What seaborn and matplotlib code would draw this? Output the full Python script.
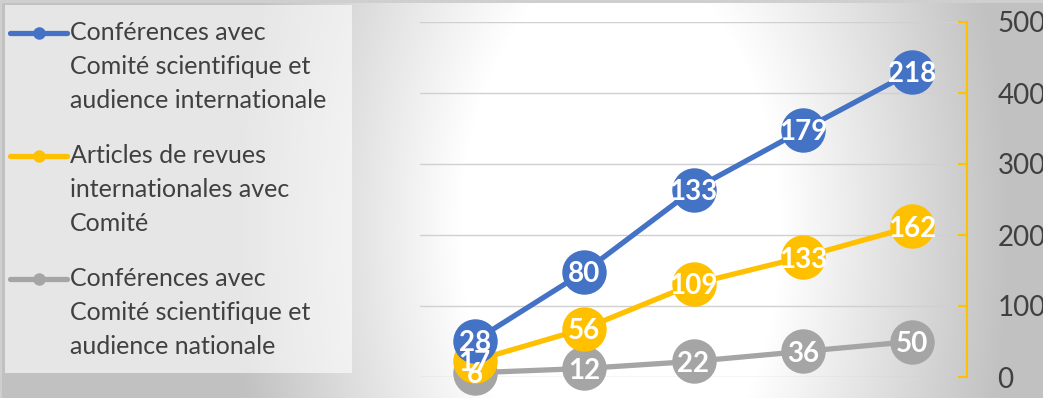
import numpy as np
import pandas as pd
import seaborn as sns
import matplotlib
matplotlib.use("Agg")
import matplotlib.pyplot as plt
import matplotlib.transforms as mtransforms
from matplotlib.legend_handler import HandlerLine2D
from matplotlib.lines import Line2D
from matplotlib.patches import Rectangle

# ---------------- data ----------------
periods = ["1", "2", "3", "4", "5"]          # x categories (no labels shown)
conf_intl = [28, 80, 133, 179, 218]
articles = [17, 56, 109, 133, 162]
conf_nat = [6, 12, 22, 36, 50]
series_names = [
    "Conférences avec\nComité scientifique et\naudience internationale",
    "Articles de revues\ninternationales avec\nComité",
    "Conférences avec\nComité scientifique et\naudience nationale",
]
series_values = [conf_intl, articles, conf_nat]
colors = ["#4472C4", "#FFC000", "#A5A5A5"]
y_ticks = [0, 100, 200, 300, 400, 500]

# stacked line chart: bottom = national, then articles, then international
stack_order = [2, 1, 0]
rows = []
cum = np.zeros(len(periods))
for si in stack_order:
    vals = np.array(series_values[si], dtype=float)
    cum = cum + vals
    for i, p in enumerate(periods):
        rows.append({"pos": i, "period": p, "series": series_names[si],
                     "value": series_values[si][i], "stacked": cum[i]})
df = pd.DataFrame(rows)

# ---------------- figure ----------------
W, H = 1043, 398
sns.set_theme(style="white")
plt.rcParams["font.family"] = ["Lato", "DejaVu Sans"]
fig = plt.figure(figsize=(W / 100, H / 100), dpi=100)

# background gradient
bg = fig.add_axes([0, 0, 1, 1])
yy, xx = np.mgrid[0:H, 0:W]
r = np.sqrt((xx - 620.0) ** 2 + ((yy - 230.0) * 0.6) ** 2)
c = 255 - 62 * np.clip((r - 160) / 230, 0, 1)
img = np.dstack([c, c, c]) / 255.0
bg.imshow(img, extent=[0, W, H, 0], aspect="auto", interpolation="bilinear")
bg.set_xlim(0, W)
bg.set_ylim(H, 0)
bg.axis("off")
bg.add_patch(Rectangle((5, 5), 347, 368, facecolor="white", alpha=0.6, edgecolor="none"))
bg.add_patch(Rectangle((0, 0), W, 3, facecolor="#CFCFCF", edgecolor="none"))
bg.add_patch(Rectangle((0, 0), 2, H, facecolor="#CFCFCF", edgecolor="none"))

# main axes
ax = fig.add_axes([420 / W, 21 / H, 547 / W, 355 / H])
ax.set_facecolor("none")
sns.lineplot(data=df, x="pos", y="stacked", hue="series",
             hue_order=[series_names[i] for i in stack_order],
             palette=[colors[i] for i in stack_order],
             marker="o", markersize=32, markeredgewidth=0, linewidth=3.8,
             sort=False, legend=False, clip_on=False, ax=ax,
             solid_joinstyle="round", solid_capstyle="round")

for _, row in df.iterrows():
    ax.text(row["pos"], row["stacked"], f"{int(row['value'])}", ha="center",
            va="center_baseline", color="white", fontsize=20, fontweight="bold",
            zorder=10, clip_on=False)

ax.set_xlim(-0.5, len(periods) - 0.5)
ax.set_ylim(0, 500)
ax.set_xticks([])
ax.set_yticks(y_ticks)
ax.yaxis.tick_right()
ax.set_xlabel("")
ax.set_ylabel("")
ax.grid(axis="y", color="#D0D0D0", linewidth=1.0)
ax.set_axisbelow(True)
for s in ["top", "left", "bottom"]:
    ax.spines[s].set_visible(False)
ax.spines["right"].set_visible(True)
ax.spines["right"].set_color("#FFC000")
ax.spines["right"].set_linewidth(1.5)
ax.tick_params(axis="y", which="major", direction="in", length=6.5, width=1.5,
               color="#FFC000", pad=22, labelsize=20, labelcolor="#404040",
               right=True, left=False, labelright=True, labelleft=False)


# ---------------- legend ----------------
class FirstLineHandler(HandlerLine2D):
    def __init__(self, shift_pt, **kw):
        super().__init__(**kw)
        self.shift_pt = shift_pt

    def create_artists(self, legend, orig_handle, xdescent, ydescent, width,
                       height, fontsize, trans):
        t = mtransforms.Affine2D().translate(0, self.shift_pt) + trans
        return super().create_artists(legend, orig_handle, xdescent, ydescent,
                                      width, height, fontsize, t)


handles = [Line2D([], [], color=col, lw=3.8, marker="o", markersize=9,
                  markeredgewidth=0, solid_capstyle="round") for col in colors]
line_step_px = 34
hmap = {h: FirstLineHandler(shift_pt=line_step_px * 0.72, numpoints=1) for h in handles}
leg = ax.legend(handles, series_names, loc="upper left",
                bbox_to_anchor=(10 / W, 1 - 21 / H), bbox_transform=fig.transFigure,
                frameon=False, fontsize=18, handlelength=2.28, handletextpad=0.12,
                labelspacing=1.28, borderpad=0, borderaxespad=0,
                labelcolor="#404040", handler_map=hmap)
for t in leg.get_texts():
    t.set_linespacing(1.58)

fig.savefig("out.png", dpi=100)
